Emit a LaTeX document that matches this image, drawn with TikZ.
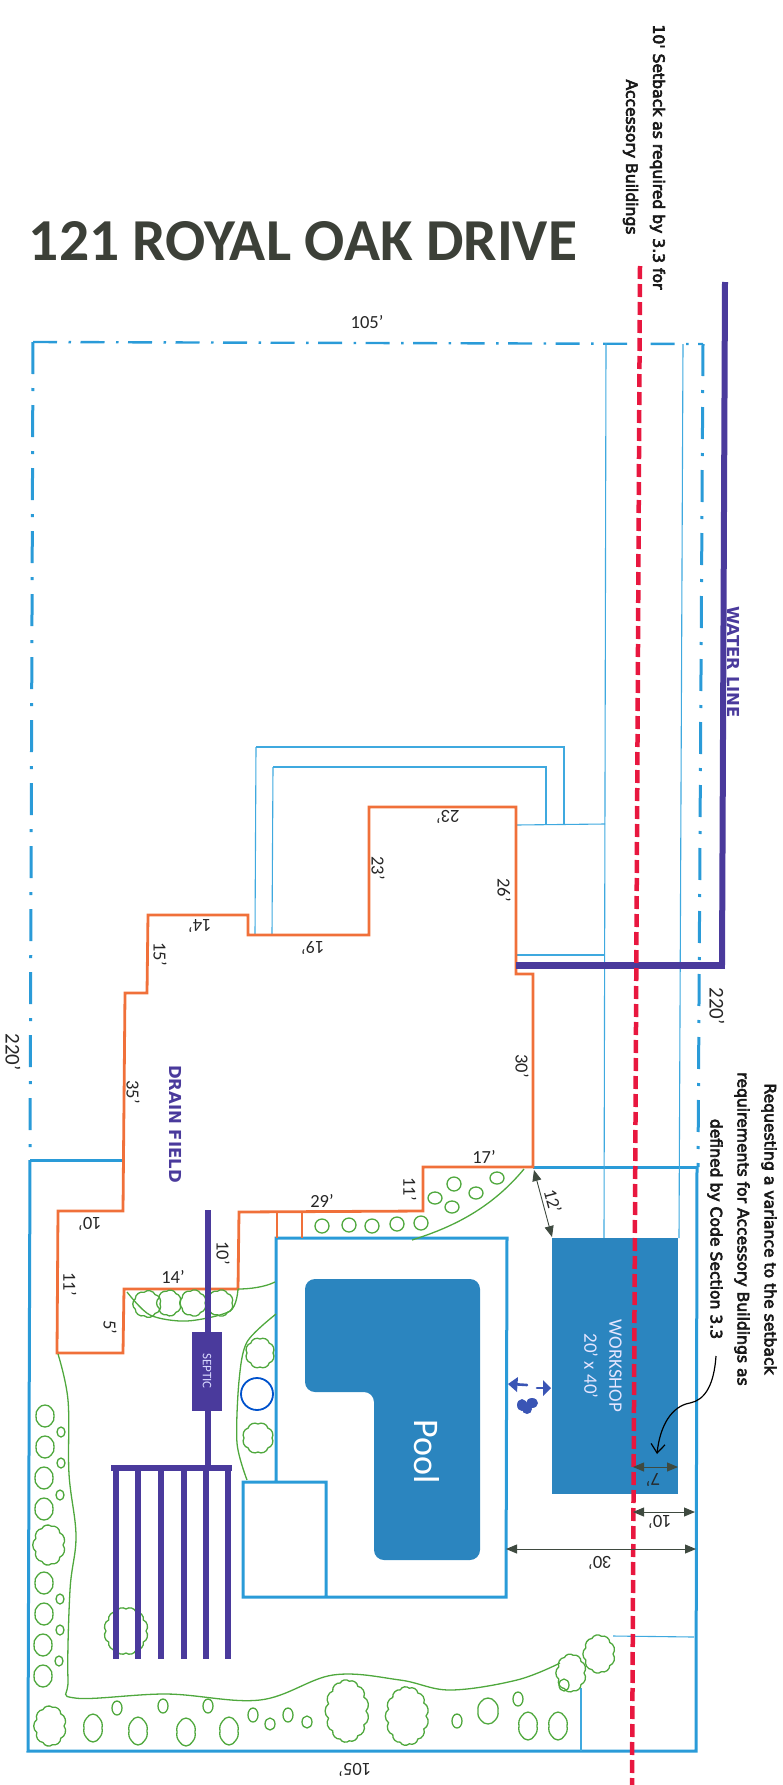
\documentclass[tikz,border=0pt]{standalone}
\usepackage{fontspec}
\setmainfont{Carlito}
\newfontfamily\notefont[FakeBold=4]{DejaVu Sans}
\newfontfamily\fieldfont{DejaVu Sans}
\usetikzlibrary{arrows.meta}
\definecolor{lotblue}{HTML}{2A9BD8}
\definecolor{thinblue}{HTML}{3FA9DF}
\definecolor{fillblue}{HTML}{2B85BF}
\definecolor{pipepurple}{HTML}{4A3A9C}
\definecolor{houseorange}{HTML}{F0703A}
\definecolor{setbackred}{HTML}{E8173F}
\definecolor{bedgreen}{HTML}{4FA83D}
\definecolor{dimgrey}{HTML}{3F4A40}
\definecolor{titlegrey}{HTML}{3C4038}
\definecolor{penblue}{HTML}{3A55B5}
\tikzset{
	lot/.style={lotblue, line width=3pt},
	lotdashh/.style={lotblue, line width=2.4pt, dash pattern=on 24pt off 11.5pt on 2.5pt off 9.5pt},
	lotdashv/.style={lot, dash pattern=on 32pt off 14pt on 3pt off 14pt},
	thinline/.style={thinblue, line width=1.1pt},
	house/.style={houseorange, line width=2.8pt, line join=miter},
	pipe/.style={pipepurple, line width=6pt},
	bed/.style={bedgreen, line width=1.3pt},
	oval/.style={bedgreen, line width=1.3pt},
	pen/.style={penblue, line width=2.6pt, line cap=round},
	dimarrow/.style={dimgrey, line width=0.9pt, {Triangle[length=11pt,width=9pt]}-{Triangle[length=11pt,width=9pt]}},
	dimlabel/.style={black!85, font=\fontsize{18.5}{18}\selectfont, inner sep=0pt},
	note/.style={black!90, font=\notefont\fontsize{15.6}{27}\selectfont, align=center, rotate=-90, inner sep=0pt}
}
% x, y, radii, number of lobes, bend
\newcommand{\bushat}[6]{
	\draw [oval] ({#1+#3},#2) \foreach \k in {1,...,#5} { to [bend left=#6] ({#1+#3*cos(\k*360/#5)},{#2+#4*sin(\k*360/#5)}) } -- cycle;
}
\begin{document}
\begin{tikzpicture}[x=1pt, y=-1pt]
	\useasboundingbox (0,0) rectangle (783,1785);

	\node (title) [text=titlegrey, font=\bfseries\fontsize{59.5}{60}\selectfont, inner sep=0pt] at (303,241) {121 ROYAL OAK DRIVE};
	\node (setback) [note] at (644,157) {10' Setback as required by 3.3 for\\Accessory Buildings};
	\node (variance) [note] at (742,1229) {Requesting a variance to the setback\\requirements for Accessory Buildings as\\defined by Code Section 3.3};

	% lot lines
	\draw [lotdashh] (33,342) -- (703,344);
	\draw [lotdashv] (33,342) -- (30,1160);
	\draw [lotdashv] (703,344) -- (698,1167);
	\draw [lot] (30,1160) -- (28,1751) -- (696,1751) -- (697,1167);
	\draw [lot] (30,1160) -- (123,1160);
	\draw [lot] (533,1167) -- (697,1167);

	% thin lines
	\draw [thinline] (606,343) -- (604,1238);
	\draw [thinline] (683,344) -- (679,1238);
	\draw [thinline] (256,747) -- (564,747) -- (564,825);
	\draw [thinline] (256,747) -- (255,935);
	\draw [thinline] (273,767) -- (546,767) -- (546,825);
	\draw [thinline] (273,767) -- (272,935);
	\draw [thinline] (516,825) -- (605,824);
	\draw [thinline] (516,955) -- (605,955);
	\draw [thinline] (613,1636) -- (694,1637);
	\draw [thinline] (581,1688) -- (581,1751);

	% workshop and pool
	\fill [fillblue] (552,1238) rectangle (678,1494);
	\fill [fillblue, rounded corners=10pt] (305,1279) -- (480,1279) -- (480,1560) -- (374,1560) -- (374,1392) -- (305,1392) -- cycle;
	\draw [lot] (276,1482) -- (276,1238) -- (507,1238) -- (506,1597) -- (243,1597) -- (243,1482) -- (326,1482) -- (326,1597);

	\node (pool) [white, rotate=-90, font=\fontsize{36}{36}\selectfont, inner sep=0pt] at (427,1452) {Pool};
	\node (workshop) [blue!10, rotate=-90, align=center, font=\fontsize{19}{25}\selectfont, inner sep=0pt] at (603,1366) {WORKSHOP\\20' x 40'};

	% house
	\draw [house] (516,807) -- (369,807) -- (369,935) -- (248,935) -- (248,915) -- (148,915) -- (147,993) -- (125,993) -- (123,1211) -- (58,1211) -- (57,1353) -- (123,1353) -- (124,1289) -- (238,1289) -- (239,1212) -- (423,1211) -- (423,1167) -- (533,1167) -- (533,974) -- (516,974) -- cycle;
	\draw [house] (277,1213) -- (277,1238);
	\draw [house] (302,1213) -- (302,1238);

	% beds
	\draw [bed] plot [smooth, tension=0.6] coordinates {(58,1354) (68,1400) (69,1474) (76,1536) (70,1590) (68,1679) (75,1698) (167,1694) (260,1700) (333,1675) (400,1680) (450,1690) (517,1680) (560,1663)};
	\draw [bed] (524,1169) .. controls (490,1210) and (450,1228) .. (412,1240);
	\draw [bed] (238,1289) .. controls (250,1289) and (265,1287) .. (275,1282);
	\draw [bed] plot [smooth] coordinates {(127,1292) (150,1315) (187,1321) (230,1311) (238,1289)};
	\draw [bed] plot [smooth] coordinates {(276,1314) (247,1342) (239,1381) (237,1443) (247,1480)};

	\foreach \x/\y/\a/\b in {61/1432/4/5, 61/1463/4/5, 60/1495/4/5, 60/1599/4/5, 60/1630/4/5, 59/1661/4/5,
		117/1708/5/7, 163/1706/5/7, 208/1706/5/7, 253/1715/5/7, 270/1724/5/6, 288/1715/5/7, 307/1722/5/6,
		457/1721/5/7, 518/1699/5/7, 564/1685/5/6,
		322/1226/7/7, 349/1225/7/7, 372/1226/7/7, 397/1224/7/7, 421/1223/7/7,
		497/1178/7/6, 454/1184/7/7, 476/1193/7/6, 435/1198/7/6, 452/1207/7/6}
		\draw [oval] (\x,\y) ellipse (\a pt and \b pt);

	% gently wobbly shrubs
	\foreach \x/\y/\a/\b in {45/1416/9/11, 45/1447/9/11, 44/1478/9/11, 44/1509/9/11, 44/1583/9/11, 44/1614/9/11, 43/1645/9/11, 43/1676/9/11,
		93/1728/9/14, 138/1731/9/14, 186/1732/9/14, 229/1731/9/14, 488/1711/10/13, 528/1726/9/14, 558/1726/9/14} {
		\bushat{\x}{\y}{\a}{\b}{8}{25}
	}

	% round bushes
	\foreach \x/\y/\a/\b/\n in {147/1304/13/12/7, 169/1303/11/12/7, 193/1303/12/12/7, 220/1303/12/12/7, 260/1353/13/14/8, 258/1438/14/14/8,
		49/1545/14/19/9, 50/1726/14/19/9, 347/1711/19/30/13, 407/1716/19/28/13, 571/1673/13/18/9, 599/1654/14/18/9, 126/1631/20/22/12} {
		\bushat{\x}{\y}{\a}{\b}{\n}{55}
	}

	\draw [blue!60!cyan!80!black, line width=1.8pt] (257,1394) circle (16pt);

	% septic
	\draw [pipe] (208,1210) -- (208,1466);
	\draw [pipe] (111,1468) -- (232,1468);
	\foreach \x in {116, 138, 161, 184, 206, 228}
		\draw [pipe] (\x,1468) -- (\x,1659);
	\node (septic) [fill=pipepurple, minimum width=79pt, minimum height=30pt, rotate=-90, text=blue!15, font=\fontsize{13}{13}\selectfont, inner sep=0pt] at (207,1371) {SEPTIC};

	% water line
	\draw [pipepurple, line width=6pt] (725,282) -- (722,965);
	\draw [pipepurple, line width=7pt] (725,965) -- (516,965);
	\node (water) [pipepurple, rotate=-90, font=\fieldfont\bfseries\fontsize{16.5}{16}\selectfont, inner sep=0pt] at (734,662) {WATER LINE};
	\node (drain) [pipepurple, rotate=-90, font=\fieldfont\bfseries\fontsize{16.5}{16}\selectfont, inner sep=0pt] at (176,1124) {DRAIN FIELD};

	% setback
	\draw [setbackred, line width=4.5pt, dash pattern=on 13pt off 5pt] (640,266) -- (632,1785);

	% pen marks between the pool and the workshop
	\draw [pen] (511,1384) -- (527,1385);
	\fill [penblue] (508,1384) -- (518,1377) -- (517,1392) -- cycle;
	\draw [pen] (537,1388) -- (549,1388);
	\fill [penblue] (551,1388) -- (543,1380) -- (543,1396) -- cycle;
	\fill [penblue] (522,1405) ellipse (5pt and 6pt);
	\fill [penblue] (532,1403) ellipse (6pt and 5pt);
	\fill [penblue] (527,1409) ellipse (5pt and 5pt);

	% dimensions
	\coordinate (a1) at (534,1170);
	\coordinate (a2) at (552,1237);
	\coordinate (b1) at (633,1467);
	\coordinate (b2) at (678,1467);
	\coordinate (c1) at (633,1512);
	\coordinate (c2) at (695,1512);
	\coordinate (e1) at (506,1549);
	\coordinate (e2) at (696,1549);
	\draw [dimarrow] (a1) -- (a2);
	\draw [dimarrow] (b1) -- (b2);
	\draw [dimarrow] (c1) -- (c2);
	\draw [dimarrow] (e1) -- (e2);

	\coordinate (callout) at (716,1356);
	\coordinate (callend) at (657,1454);
	\draw [black, line width=1.2pt, -{Straight Barb[length=9pt,width=14pt]}] (callout) .. controls (714,1385) and (705,1400) .. (690,1403) .. controls (672,1406) and (660,1425) .. (callend);

	\foreach \i/\x/\y/\r/\t in {1/367/322/0/105', 2/355/1770/180/105', 3/448/817/180/23', 4/378/868/-90/23', 5/504/890/-90/26', 6/200/926/180/14', 7/313/948/180/19', 8/160/954/-90/15', 9/133/1092/-90/35', 10/522/1066/-90/30', 11/484/1157/0/17', 12/410/1189/-90/11', 13/322/1201/0/29', 14/90/1224/180/10', 15/70/1284/-90/11', 16/173/1277/0/14', 17/110/1327/-90/5', 18/223/1253/-90/10', 19/553/1201/-75/12', 20/653/1480/180/7', 21/660/1522/180/10', 22/600/1563/180/30'}
		\node (lab\i) [dimlabel, rotate=\r] at (\x,\y) {\t};

	\node (side1) [dimlabel, rotate=-90, font=\fontsize{21}{21}\selectfont] at (13,1052) {220'};
	\node (side2) [dimlabel, rotate=-90, font=\fontsize{21}{21}\selectfont] at (717,1006) {220'};

\end{tikzpicture}
\end{document}
